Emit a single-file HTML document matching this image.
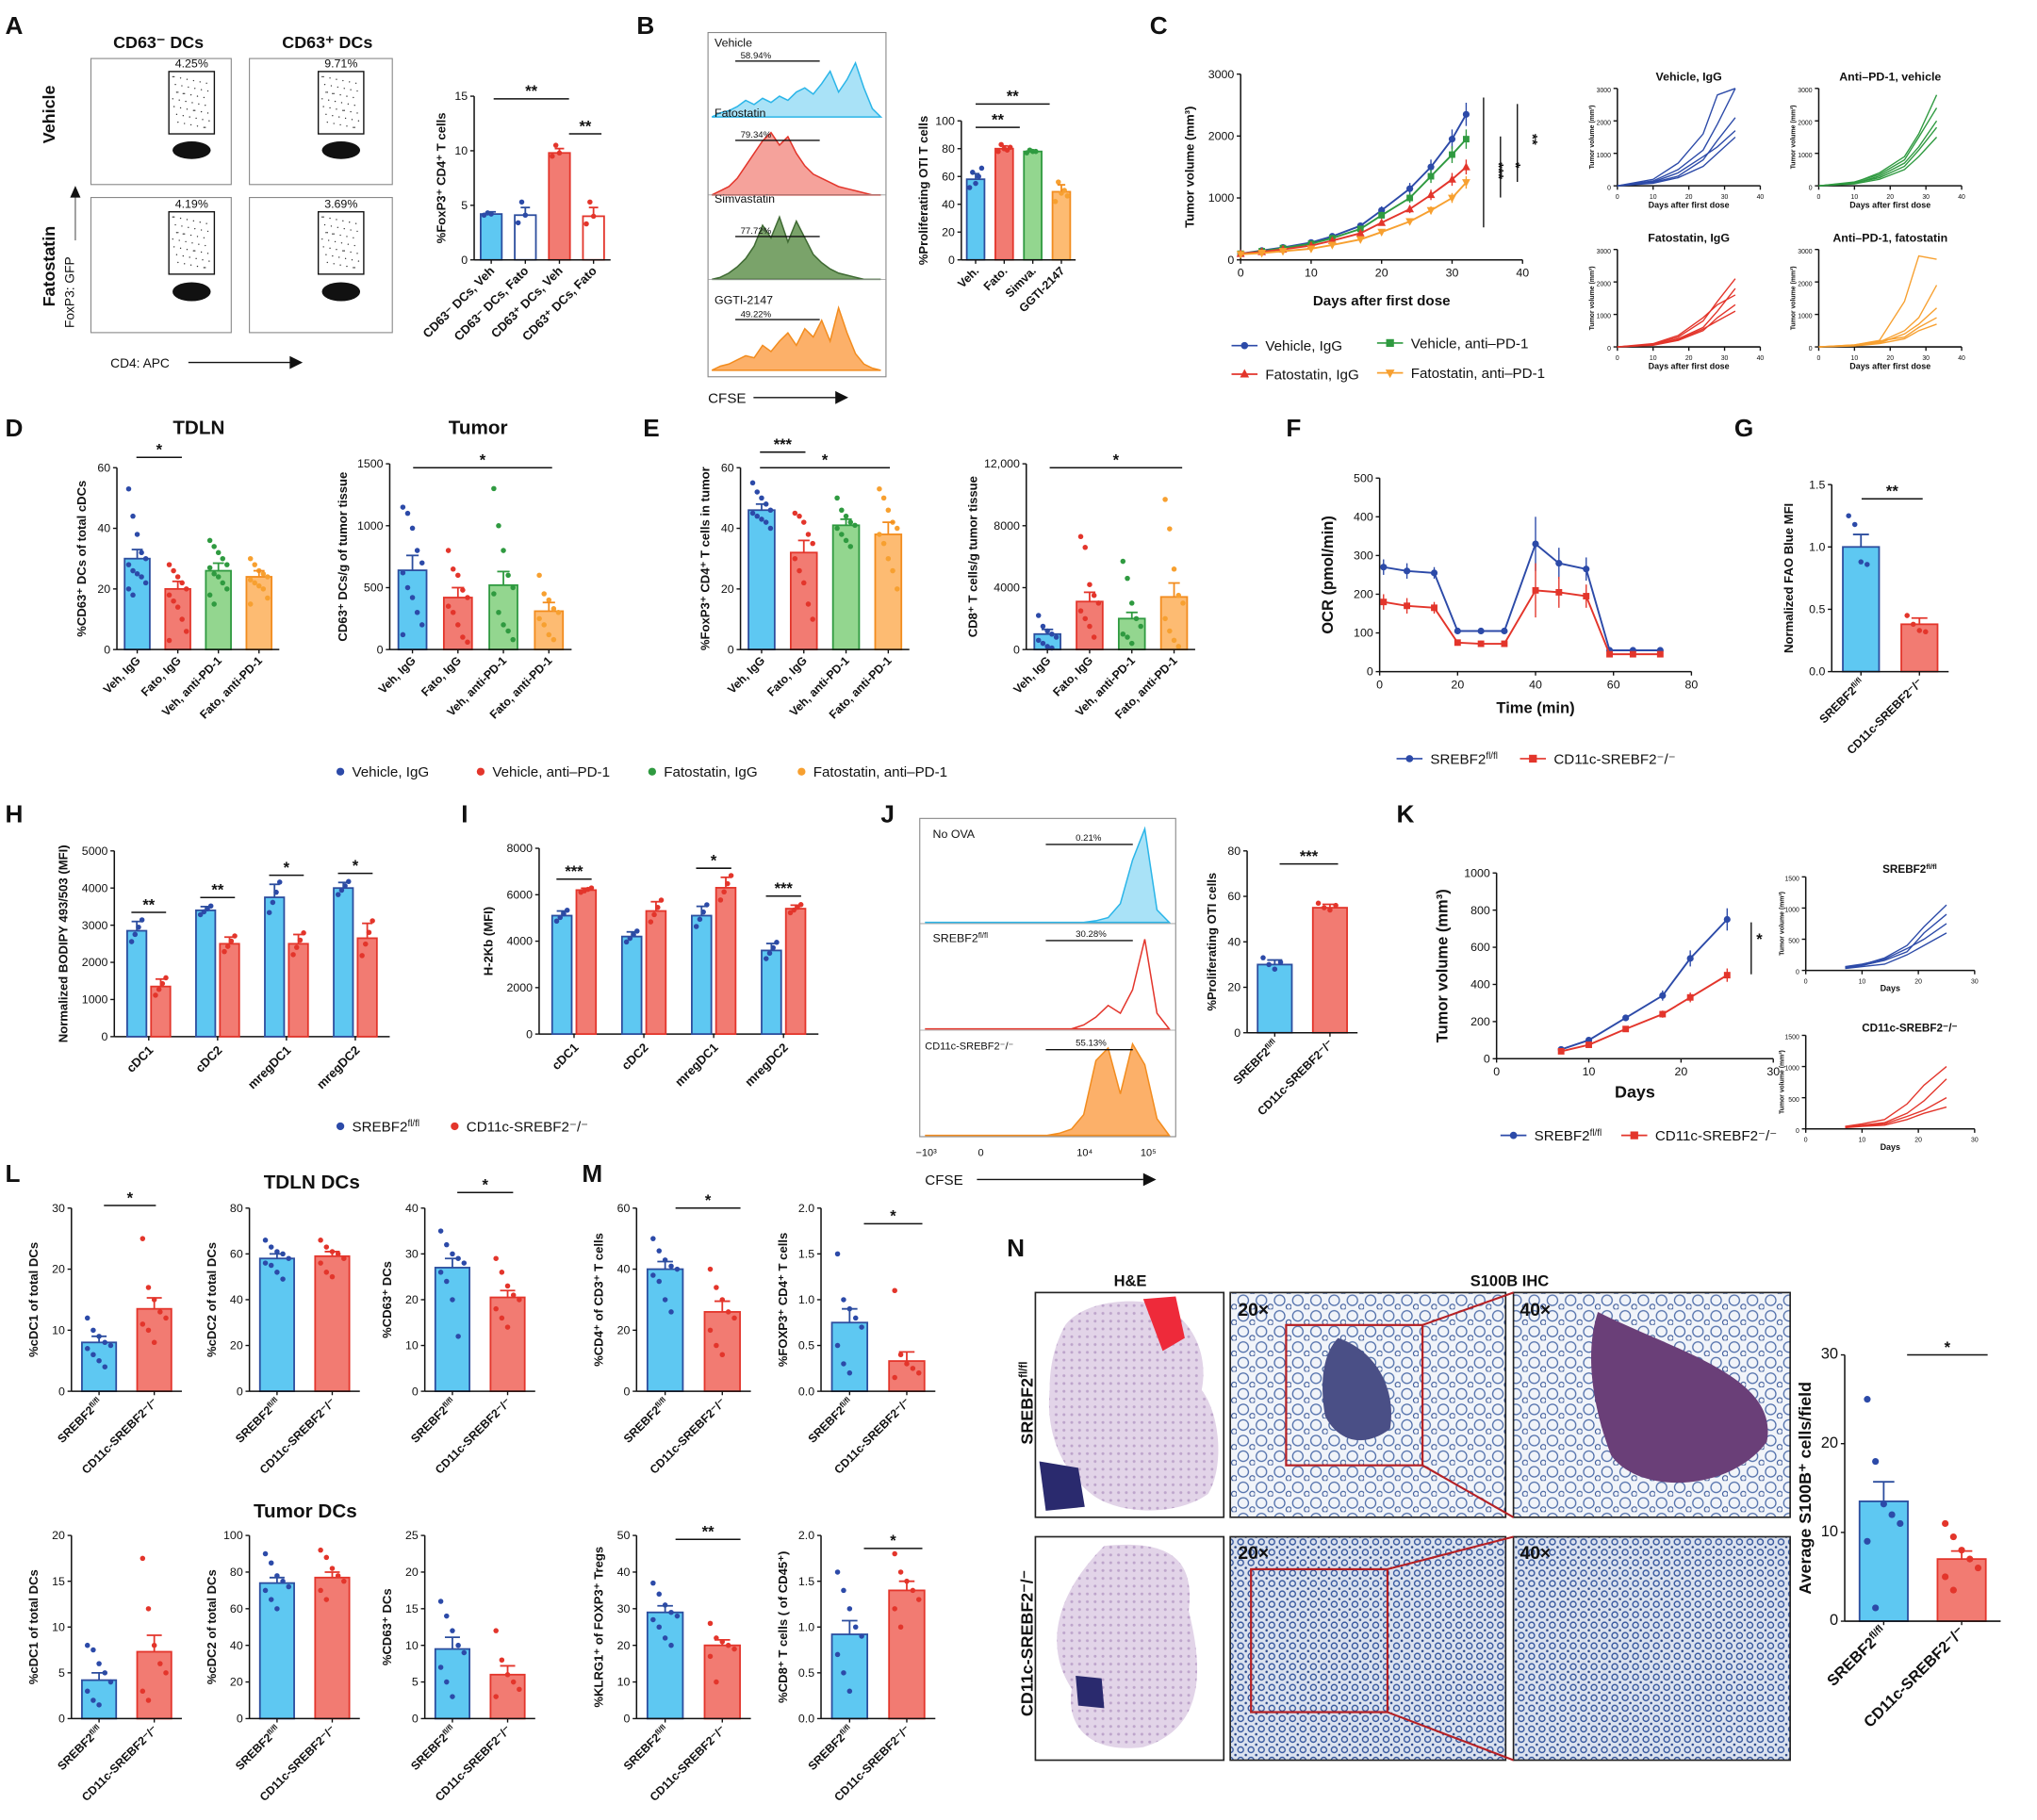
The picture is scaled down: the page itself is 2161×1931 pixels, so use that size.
<!DOCTYPE html>
<html><head><meta charset="utf-8"><style>
html,body{margin:0;padding:0;background:#fff}
svg{display:block;font-family:"Liberation Sans",Arial,sans-serif}
</style></head><body>
<svg id="fig" xmlns="http://www.w3.org/2000/svg" width="2161" height="1931" viewBox="0 0 1568 1401">
<defs>
<pattern id="ihc" width="14" height="12" patternUnits="userSpaceOnUse"><rect width="14" height="12" fill="#f1f4f9"/><circle cx="5" cy="5" r="4" fill="none" stroke="#4c6ba8" stroke-width="0.9"/><circle cx="12" cy="10" r="2" fill="none" stroke="#3a5898" stroke-width="0.8"/></pattern>
<pattern id="ihc2" width="8" height="8" patternUnits="userSpaceOnUse"><rect width="8" height="8" fill="#dbe2ef"/><circle cx="3" cy="3" r="2.2" fill="none" stroke="#34559c" stroke-width="1"/><circle cx="7" cy="7" r="0.9" fill="#27458a"/></pattern>
<pattern id="he" width="6" height="6" patternUnits="userSpaceOnUse"><rect width="6" height="6" fill="#e2d4e8"/><circle cx="3" cy="3" r="1.1" fill="#bda4cb"/></pattern>
</defs>
<g id="root"></g>
</svg>
<script>
// ---------------- data ----------------
const aCats=["CD63⁻ DCs, Veh","CD63⁻ DCs, Fato","CD63⁺ DCs, Veh","CD63⁺ DCs, Fato"];
const aVals=[4.2,4.1,9.8,4.0];
const aErrs=[0.2,0.7,0.4,0.8];
const aDots=[[4.1,4.3,4.2],[3.4,5.3,4.1],[9.5,10.5,9.8],[3.3,5.3,4.0]];
const bCats=["Veh.","Fato.","Simva.","GGTI-2147"];
const bVals=[58,80,78,49];
const bErrs=[4,2,1,5];
const bDots=[[52,63,55,60,66],[78,83,80,79,81],[77,79,78,78],[42,56,48,50,46]];
const dCats=["Veh, IgG","Fato, IgG","Veh, anti-PD-1","Fato, anti-PD-1"];
const d1Vals=[30,20,26,24];const d1Errs=[3,2.5,2.5,2];
const d1Dots=[[53,44,38,32,30,28,26,25,24,22,20,18],[28,26,24,22,20,18,16,14,10,6,3],[36,34,32,30,28,27,25,24,22,20,18,15],[30,28,26,25,24,23,22,21,20,17,15]];
const d2Vals=[640,420,520,310];const d2Errs=[120,80,110,70];
const d2Dots=[[1150,1100,980,800,700,620,500,420,300,200,120],[800,650,600,480,420,350,300,200,100,60],[1300,1000,800,600,500,450,300,200,150,80],[600,450,400,330,300,250,200,120,80]];
const e1Vals=[46,32,41,38];const e1Errs=[2,4,2,4];
const e1Dots=[[55,52,50,48,46,45,44,43,42,40],[45,44,42,38,35,30,26,22,15,10],[50,46,44,42,41,40,38,36,34],[53,50,46,42,40,38,35,30,26,20]];
const e2Vals=[1000,3100,2000,3400];const e2Errs=[300,600,400,900];
const e2Dots=[[2200,1500,1200,1000,800,600,400,200,100],[7300,6600,4200,3500,3000,2500,2000,1500,800],[5700,4600,3000,2000,1500,1000,800,400],[9700,7800,5200,3500,3000,2000,1200,600,200]];
const gCats=["SREBF2fl/fl","CD11c-SREBF2⁻/⁻"];
const gVals=[1.0,0.38];const gErrs=[0.1,0.05];
const gDots=[[1.25,1.18,0.88,0.86],[0.45,0.38,0.33,0.32]];
const hCats=["cDC1","cDC2","mregDC1","mregDC2"];
const hVals1=[2850,3400,3750,4000];const hVals2=[1350,2500,2500,2650];
const hErrs1=[250,100,350,150];const hErrs2=[200,180,250,400];
const iVals1=[5100,4200,5100,3600];const iVals2=[6200,5300,6300,5400];
const iErrs1=[200,200,400,300];const iErrs2=[80,400,450,150];
const jVals=[30,55];const jErrs=[2,1.5];const jDots=[[33,30,28,31],[57,55,54,56]];
const nVals=[13.5,7];const nErrs=[2.2,0.9];
const nDots=[[25,18,13.2,12,11,9,1.5],[11,9.5,8,7,6,5,3.5]];
const lTop=[{v:[8,13.5],e:[1,1.8],max:30,t:[0,10,20,30],y:"%cDC1 of total DCs",d:[[12,10,9,8,7.5,7,6,5,4],[25,17,15,13,12,11,10,8]]},
 {v:[58,59],e:[2,2],max:80,t:[0,20,40,60,80],y:"%cDC2 of total DCs",d:[[66,63,61,60,58,56,55,52,49],[66,63,61,60,58,56,52,50]]},
 {v:[27,20.5],e:[2,1.5],max:40,t:[0,10,20,30,40],y:"%CD63⁺ DCs",d:[[35,32,30,29,28,26,24,20,12],[29,26,23,21,20,18,16,14]]}];
const lBot=[{v:[4.2,7.3],e:[0.8,1.8],max:20,t:[0,5,10,15,20],y:"%cDC1 of total DCs",d:[[8,7.5,6,5,4,3,2,1.5],[17.5,12,8,6,5,3,2]]},
 {v:[74,77],e:[3,3],max:100,t:[0,20,40,60,80,100],y:"%cDC2 of total DCs",d:[[90,85,78,75,72,70,65,60],[92,88,82,78,75,70,65]]},
 {v:[9.5,6],e:[1.6,1.2],max:25,t:[0,5,10,15,20,25],y:"%CD63⁺ DCs",d:[[16,14,12,10,9,7,5,3],[12,8,6,5,4,3]]}];
const mTop=[{v:[40,26],e:[2.5,3.5],max:60,t:[0,20,40,60],y:"%CD4⁺ of CD3⁺ T cells",d:[[50,46,43,41,40,38,36,30,26],[40,34,30,26,24,20,15,12]]},
 {v:[0.75,0.33],e:[0.15,0.1],max:2,t:["0.0","0.5","1.0","1.5","2.0"],y:"%FOXP3⁺ CD4⁺ T cells",d:[[1.5,1.0,0.9,0.8,0.7,0.5,0.3,0.2],[1.1,0.4,0.3,0.25,0.2,0.15]]}];
const mBot=[{v:[29,20],e:[1.8,1.5],max:50,t:[0,10,20,30,40,50],y:"%KLRG1⁺ of FOXP3⁺ Tregs",d:[[37,34,31,29,28,27,25,22,20],[26,22,21,20,19,17,10]]},
 {v:[0.92,1.4],e:[0.15,0.1],max:2,t:["0.0","0.5","1.0","1.5","2.0"],y:"%CD8⁺ T cells ( of CD45⁺)",d:[[1.6,1.4,1.2,1.0,0.9,0.7,0.5,0.3],[1.8,1.6,1.5,1.4,1.3,1.2,1.0]]}];
const cDays=[0,3,6,10,13,17,20,24,27,30,32];
const cVehIgG=[100,150,200,280,380,550,800,1150,1500,1950,2350];
const cVehPD1=[100,140,190,260,350,500,720,1000,1350,1700,1950];
const cFatoIgG=[100,130,170,230,310,430,600,820,1050,1300,1500];
const cFatoPD1=[90,110,140,180,240,330,450,620,800,1000,1250];
const smDays=[0,10,17,24,28,33];
const smVehIgG=[[0,150,500,1100,1900,3000],[0,100,300,800,1400,2100],[0,120,400,900,1200,1700],[0,80,250,600,1000,1500],[0,200,700,1600,2800,3000]];
const smPD1Veh=[[0,100,400,900,1600,2800],[0,80,300,700,1200,2000],[0,120,350,800,1500,2400],[0,60,200,500,900,1500],[0,90,250,600,1100,1800]];
const smFatoIgG=[[0,80,300,800,1400,2100],[0,60,250,600,1100,1800],[0,100,350,900,1300,1600],[0,50,200,500,900,1300],[0,70,220,550,800,1100]];
const smFatoPD1=[[0,60,200,1400,2800,2700],[0,50,150,500,900,1900],[0,40,120,400,700,1200],[0,60,180,300,600,900],[0,30,100,250,500,700]];
const fTime=[1,7,14,20,26,32,40,46,53,59,65,72];
const fCtrl=[270,260,255,105,105,105,330,280,265,55,55,55];
const fKO=[180,170,165,75,72,72,210,205,195,45,45,45];
const fErr=[20,20,15,8,8,8,70,40,30,5,5,5];
const kDays=[7,10,14,18,21,25];
const kCtrl=[50,100,220,340,540,750];
const kKO=[40,75,160,240,330,450];
const kSmDays=[7,10,14,18,21,25];
const kSm1=[[50,90,200,400,700,1050],[40,80,160,300,600,900],[60,100,180,350,500,750],[30,60,100,250,400,600]];
const kSm2=[[40,80,150,400,700,1000],[30,60,100,250,450,800],[30,50,80,200,300,500],[20,40,60,150,250,350]];
const hist1=[0,2,3,5,8,6,9,7,10,8,12,14,11,16,22,12,18,26,14,4,0];
const hist2=[0,2,4,8,14,20,26,30,24,28,20,14,10,8,6,4,3,2,1,0,0];
const hist3=[0,1,3,6,10,16,26,20,30,18,28,20,12,8,5,3,2,1,0,0,0];
const hist4=[0,2,3,5,7,6,12,9,14,18,12,20,16,24,14,30,18,8,3,1,0];
const jHist1=[0,0,0,0,0,0,0,0,0,0,0,0,0,0,1,3,12,40,60,8,0];
const jHist2=[0,0,0,0,0,0,0,0,0,0,0,0,0,2,6,12,8,20,46,8,0];
const jHist3=[0,0,0,0,0,0,0,0,0,0,0,1,3,10,36,42,20,44,34,8,0];

// ---------------- helpers ----------------
const NS="http://www.w3.org/2000/svg";
const root=document.getElementById('root');
function mk(tag,attrs,parent){const e=document.createElementNS(NS,tag);for(const k in attrs)e.setAttribute(k,attrs[k]);(parent||root).appendChild(e);return e;}
function nm(el,n){


return el;}
function txt(x,y,s,o){o=o||{};const fs=o.fs||9;const e=mk('text',{x:x,y:y,'font-size':fs,'font-weight':o.fw||'normal','text-anchor':o.a||'start','fill':o.c||'#111'},o.p);if(o.rot!==undefined)e.setAttribute('transform',`rotate(${o.rot} ${x} ${y})`);
 const parts=String(s).split('fl/fl');
 if(parts.length>1){e.appendChild(document.createTextNode(parts[0]));const t=document.createElementNS(NS,'tspan');t.setAttribute('font-size',fs*0.65);t.setAttribute('dy',-fs*0.35);t.textContent='fl/fl';e.appendChild(t);
  if(parts[1]){const t2=document.createElementNS(NS,'tspan');t2.setAttribute('dy',fs*0.35);t2.textContent=parts[1];e.appendChild(t2);}}
 else e.textContent=s;
 nm(e,o.n||'label');return e;}
function line(x1,y1,x2,y2,c,w,p){return nm(mk('line',{x1,y1,x2,y2,stroke:c||'#111','stroke-width':w||1},p),'line');}
const COL={b:{f:'#5ec8f2',s:'#2c4d9e',d:'#2c4aa8'},r:{f:'#f27b72',s:'#e3352b',d:'#e3352b'},g:{f:'#93d68f',s:'#2f9a40',d:'#2f9a40'},o:{f:'#fdbb72',s:'#f28c1e',d:'#f7a030'}};
function letter(x,y,s){txt(x,y,s,{fs:19,fw:'bold',n:'panel-letter-'+s.toLowerCase()});}
function sig(x1,x2,y,s){if(!s)return;line(x1,y,x2,y,'#111',1.1);txt((x1+x2)/2,y-2,s,{fs:12,fw:'bold',a:'middle',n:'significance'});}
function yAxis(P,sy){line(P.x,P.y,P.x,P.y+P.h,'#111',1.1);P.ticks.forEach(t=>{const v=parseFloat(String(t).replace(',',''));const yy=sy(v);line(P.x-3,yy,P.x,yy);txt(P.x-5,yy+3,String(t),{fs:P.tfs||9,a:'end',n:'y-tick-label'});});
 if(P.ylab)txt(P.x-(P.yoff||28),P.y+P.h/2,P.ylab,{fs:P.yfs||9.5,fw:'bold',a:'middle',rot:-90,n:'y-axis-title'});}
function barChart(P){
 const g=nm(mk('g',{}),P.name||'bar-chart');
 const sy=v=>P.y+P.h-v/P.max*P.h;
 yAxis(P,sy);line(P.x,P.y+P.h,P.x+P.w,P.y+P.h,'#111',1.1);
 const n=P.vals.length,slot=P.w/n,bw=slot*(P.bwf||0.62);
 P.vals.forEach((v,i)=>{const cx=P.x+slot*(i+0.5);const c=COL[P.cols[i]];const open=P.open&&P.open[i];
  const r=mk('rect',{x:cx-bw/2,y:sy(v),width:bw,height:P.y+P.h-sy(v),fill:open?'#fff':c.f,stroke:c.s,'stroke-width':1.3},g);
  
  
  line(cx,P.y+P.h,cx,P.y+P.h+3,'#111',1,g);
  if(P.dots){P.dots[i].forEach((d,j)=>{const dx=((j%5)-2)*bw*0.17;const c2=mk('circle',{cx:cx+dx,cy:sy(d),r:P.dr||2,fill:c.d},g);
   
   });}
  const e=P.errs[i];line(cx,sy(v),cx,sy(v+e),c.s,1.3,g);line(cx-bw*0.22,sy(v+e),cx+bw*0.22,sy(v+e),c.s,1.3,g);
  if(P.cats){txt(cx+3,P.y+P.h+9,P.cats[i],{fs:P.cfs||9,fw:'bold',a:'end',rot:-45,n:'category-label'});}
 });
 return sy;}
function grouped(P){
 const sy=v=>P.y+P.h-v/P.max*P.h;yAxis(P,sy);line(P.x,P.y+P.h,P.x+P.w,P.y+P.h,'#111',1.1);
 const n=P.cats.length,slot=P.w/n,bw=slot*0.28;
 P.cats.forEach((cat,i)=>{const gx=P.x+slot*(i+0.5);
  [[P.v1,P.e1,'b',-1],[P.v2,P.e2,'r',1]].forEach(([vs,es,ck,sgn])=>{const c=COL[ck];const cx=gx+sgn*bw*0.62;const v=vs[i];
   const r=mk('rect',{x:cx-bw/2,y:sy(v),width:bw,height:P.y+P.h-sy(v),fill:c.f,stroke:c.s,'stroke-width':1.3});
   
   
   [-0.9,-0.3,0.3,0.9].forEach((k,j)=>{const d=v+es[i]*k*1.3;const cc=mk('circle',{cx:cx+(j-1.5)*bw*0.18,cy:sy(d),r:2,fill:c.d});
    
    });
   line(cx,sy(v),cx,sy(v+es[i]),c.s,1.3);line(cx-4,sy(v+es[i]),cx+4,sy(v+es[i]),c.s,1.3);});
  line(gx,P.y+P.h,gx,P.y+P.h+3);
  txt(gx+4,P.y+P.h+11,cat,{fs:9.5,fw:'bold',a:'end',rot:-45,n:'category-label'});
  sig(gx-bw*0.9,gx+bw*0.9,sy(Math.max(P.v1[i]+P.e1[i],P.v2[i]+P.e2[i]))-7,P.sigs[i]);
 });}
function lineChart(P){
 const sx=v=>P.x+(v-P.xmin)/(P.xmax-P.xmin)*P.w, sy=v=>P.y+P.h-v/P.max*P.h;
 yAxis(P,sy);line(P.x,P.y+P.h,P.x+P.w,P.y+P.h,'#111',1.1);
 P.xticks.forEach(t=>{line(sx(t),P.y+P.h,sx(t),P.y+P.h+3);txt(sx(t),P.y+P.h+(P.tfs?P.tfs+5:13),String(t),{fs:P.tfs||9,a:'middle',n:'x-tick-label'});});
 if(P.xlab)txt(P.x+P.w/2,P.y+P.h+(P.xoff||32),P.xlab,{fs:P.xfs||11,fw:'bold',a:'middle',n:'x-axis-title'});
 P.series.forEach(s=>{const pts=s.vals.map((v,i)=>sx(P.xs[i])+','+sy(v)).join(' ');
  const pl=mk('polyline',{points:pts,fill:'none',stroke:s.c,'stroke-width':P.lw||1.4});
  
  
  if(s.marker){s.vals.forEach((v,i)=>{const e=s.errs?s.errs[i]:v*0.08;line(sx(P.xs[i]),sy(v-e),sx(P.xs[i]),sy(v+e),s.c,1);
   const X=sx(P.xs[i]),Y=sy(v);
   const m=s.marker==='c'?mk('circle',{cx:X,cy:Y,r:2.6,fill:s.c}):s.marker==='s'?mk('rect',{x:X-2.5,y:Y-2.5,width:5,height:5,fill:s.c}):mk('polygon',{points:s.marker==='t'?`${X},${Y-3.5} ${X-3.2},${Y+2.5} ${X+3.2},${Y+2.5}`:`${X},${Y+3.5} ${X-3.2},${Y-2.5} ${X+3.2},${Y-2.5}`,fill:s.c});
   
   });}
 });}
function legendItem(x,y,c,marker,label){line(x,y,x+20,y,c,1.2);
 const m=marker==='c'?mk('circle',{cx:x+10,cy:y,r:2.8,fill:c}):marker==='s'?mk('rect',{x:x+7,y:y-3,width:6,height:6,fill:c}):mk('polygon',{points:marker==='t'?`${x+10},${y-4} ${x+6.5},${y+2.5} ${x+13.5},${y+2.5}`:`${x+10},${y+4} ${x+6.5},${y-2.5} ${x+13.5},${y-2.5}`,fill:c});
 
 
 txt(x+26,y+4,label,{fs:11,n:'legend-entry'});}
function dotLegend(x,y,c,label){const m=mk('circle',{cx:x,cy:y,r:3,fill:c});
 
 
 txt(x+9,y+4,label,{fs:11,n:'legend-entry'});}
function flowBox(x,y,w,h,pct,gx,gy,gw,gh){nm(mk('rect',{x,y,width:w,height:h,fill:'#fff',stroke:'#888','stroke-width':0.8}),'flow-plot');
 nm(mk('ellipse',{cx:gx+gw/2,cy:gy+gh+h*0.13,rx:gw*0.42,ry:h*0.07,fill:'#111'}),'cell-cluster');
 for(let i=0;i<45;i++){nm(mk('circle',{cx:gx+3+((i*37)%(gw-6)),cy:gy+4+((i*53)%(gh-8)),r:0.5,fill:'#333'}),'event');}
 nm(mk('rect',{x:gx,y:gy,width:gw,height:gh,fill:'none',stroke:'#111','stroke-width':1}),'gate');
 txt(gx+gw/2,gy-3,pct,{fs:9,a:'middle',n:'gate-percent'});}
function histo(x,y,w,h,vals,fill,stroke,scale){const step=w/(vals.length-1);
 const pts=vals.map((v,i)=>`${x+i*step},${y+h-v*scale}`).join(' ');
 nm(mk('polygon',{points:`${x},${y+h} ${pts} ${x+w},${y+h}`,fill:fill,stroke:stroke,'stroke-width':1.1}),'histogram');}
function rbar(x,y,w,h,name,cats){
 return (o)=>barChart(Object.assign({x,y,w,h,cols:['b','r'],cats:cats,yoff:26,name:name,cfs:9},o));}
const twoCats=["SREBF2fl/fl","CD11c-SREBF2⁻/⁻"];

// ---------------- Panel A ----------------
letter(4,26,'A');
txt(122,37,'CD63⁻ DCs',{fs:13,fw:'bold',a:'middle'});txt(252,37,'CD63⁺ DCs',{fs:13,fw:'bold',a:'middle'});
txt(42,88,'Vehicle',{fs:13,fw:'bold',a:'middle',rot:-90});txt(42,205,'Fatostatin',{fs:13,fw:'bold',a:'middle',rot:-90});
txt(57,225,'FoxP3: GFP',{fs:10,a:'middle',rot:-90});line(58,185,58,150,'#555',0.8);
nm(mk('polygon',{points:'58,143 54,152 62,152',fill:'#111'}),'arrow-head');
flowBox(70,45,108,97,'4.25%',130,55,35,48);
flowBox(192,45,110,97,'9.71%',245,55,35,48);
flowBox(70,152,108,104,'4.19%',130,163,35,48);
flowBox(192,152,110,104,'3.69%',245,163,35,48);
barChart({name:'panel-a-bars',x:365,y:74,w:105,h:126,max:15,ticks:[0,5,10,15],cats:aCats,vals:aVals,errs:aErrs,dots:aDots,cols:['b','b','r','r'],open:[0,1,0,1],ylab:'%FoxP3⁺ CD4⁺ T cells',yoff:22,cfs:9.5});
sig(380,438,76,'**');sig(438,463,103,'**');
txt(85,283,'CD4: APC',{fs:10,n:'x-axis-title'});line(145,279,225,279,'#111',1);nm(mk('polygon',{points:'233,279 223,274 223,284',fill:'#111'}),'arrow-head');

// ---------------- Panel B ----------------
letter(490,26,'B');
nm(mk('rect',{x:545,y:25,width:137,height:265,fill:'#fff',stroke:'#888','stroke-width':0.8}),'histogram-frame');
histo(548,35,130,55,hist1,'#a9e2f7','#2bb5e8',1.6);txt(550,36,'Vehicle',{fs:9});line(566,47,631,47);txt(570,45,'58.94%',{fs:7});
histo(548,95,130,55,hist2,'#f5a29b','#e3352b',1.6);txt(550,90,'Fatostatin',{fs:9});line(566,108,631,108);txt(570,106,'79.34%',{fs:7});
histo(548,160,130,55,hist3,'#7aa36a','#3f6a33',1.6);txt(550,156,'Simvastatin',{fs:9});line(566,182,631,182);txt(570,180,'77.72%',{fs:7});
histo(548,225,130,60,hist4,'#fcb069','#f28c1e',1.6);txt(550,234,'GGTI-2147',{fs:9});line(566,246,631,246);txt(570,244,'49.22%',{fs:7});
line(545,150,682,150,'#999',0.6);line(545,215,682,215,'#999',0.6);
txt(545,310,'CFSE',{fs:11,n:'x-axis-title'});line(580,306,645,306,'#111',1);nm(mk('polygon',{points:'653,306 643,301 643,311',fill:'#111'}),'arrow-head');
barChart({name:'panel-b-bars',x:740,y:93,w:88,h:107,max:100,ticks:[0,20,40,60,80,100],cats:bCats,vals:bVals,errs:bErrs,dots:bDots,cols:['b','r','g','o'],ylab:'%Proliferating OTI T cells',yoff:26});
sig(751,808,80,'**');sig(751,785,98,'**');

// ---------------- Panel C ----------------
letter(885,26,'C');
lineChart({x:955,y:57,w:217,h:143,xmin:0,xmax:40,max:3000,ticks:[0,1000,2000,3000],xticks:[0,10,20,30,40],xs:cDays,ylab:'Tumor volume (mm³)',yoff:36,xlab:'Days after first dose',xoff:35,
 series:[{vals:cVehIgG,c:'#2c4aa8',marker:'c'},{vals:cVehPD1,c:'#2f9a40',marker:'s'},{vals:cFatoIgG,c:'#e3352b',marker:'t'},{vals:cFatoPD1,c:'#f7a030',marker:'v'}]});
line(1142,75,1142,175);txt(1150,125,'***',{fs:11,fw:'bold',rot:90});line(1155,105,1155,152);txt(1163,125,'*',{fs:11,fw:'bold',rot:90});line(1168,80,1168,140);txt(1176,103,'**',{fs:11,fw:'bold',rot:90});
legendItem(948,266,'#2c4aa8','c','Vehicle, IgG');legendItem(1060,264,'#2f9a40','s','Vehicle, anti–PD-1');
legendItem(948,288,'#e3352b','t','Fatostatin, IgG');legendItem(1060,287,'#f7a030','v','Fatostatin, anti–PD-1');
[[1245,68,'Vehicle, IgG',smVehIgG,'#2c4aa8'],[1400,68,'Anti–PD-1, vehicle',smPD1Veh,'#2f9a40'],[1245,192,'Fatostatin, IgG',smFatoIgG,'#e3352b'],[1400,192,'Anti–PD-1, fatostatin',smFatoPD1,'#f7a030']].forEach(([x,y,t,arr,c])=>{
 txt(x+55,y-6,t,{fs:9,fw:'bold',a:'middle',n:'small-multiple-title'});
 lineChart({x:x,y:y,w:110,h:75,xmin:0,xmax:40,max:3000,ticks:[0,1000,2000,3000],tfs:5,xticks:[0,10,20,30,40],xs:smDays,ylab:'Tumor volume (mm³)',yfs:5,yoff:18,xlab:'Days after first dose',xfs:6.5,xoff:17,lw:1,
  series:arr.map(a=>({vals:a,c:c}))});});

// ---------------- Panel D ----------------
letter(4,336,'D');
txt(153,334,'TDLN',{fs:15,fw:'bold',a:'middle'});txt(368,334,'Tumor',{fs:15,fw:'bold',a:'middle'});
barChart({name:'panel-d-tdln',x:90,y:360,w:125,h:140,max:60,ticks:[0,20,40,60],cats:dCats,vals:d1Vals,errs:d1Errs,dots:d1Dots,cols:['b','r','g','o'],ylab:'%CD63⁺ DCs of total cDCs',yoff:24});
sig(105,140,352,'*');
barChart({name:'panel-d-tumor',x:300,y:357,w:140,h:143,max:1500,ticks:[0,500,1000,1500],cats:dCats,vals:d2Vals,errs:d2Errs,dots:d2Dots,cols:['b','r','g','o'],ylab:'CD63⁺ DCs/g of tumor tissue',yoff:33});
sig(318,425,360,'*');

// ---------------- Panel E ----------------
letter(495,336,'E');
barChart({name:'panel-e-foxp3',x:570,y:360,w:130,h:140,max:60,ticks:[0,20,40,60],cats:dCats,vals:e1Vals,errs:e1Errs,dots:e1Dots,cols:['b','r','g','o'],ylab:'%FoxP3⁺ CD4⁺ T cells in tumor',yoff:24});
sig(585,620,348,'***');sig(585,685,360,'*');
barChart({name:'panel-e-cd8',x:790,y:357,w:130,h:143,max:12000,ticks:[0,4000,8000,'12,000'],cats:dCats,vals:e2Vals,errs:e2Errs,dots:e2Dots,cols:['b','r','g','o'],ylab:'CD8⁺ T cells/g tumor tissue',yoff:38});
sig(808,910,360,'*');
dotLegend(262,594,'#2c4aa8','Vehicle, IgG');dotLegend(370,594,'#e3352b','Vehicle, anti–PD-1');dotLegend(502,594,'#2f9a40','Fatostatin, IgG');dotLegend(617,594,'#f7a030','Fatostatin, anti–PD-1');

// ---------------- Panel F ----------------
letter(990,336,'F');
lineChart({x:1062,y:368,w:240,h:149,xmin:0,xmax:80,max:500,ticks:[0,100,200,300,400,500],xticks:[0,20,40,60,80],xs:fTime,ylab:'OCR (pmol/min)',yoff:36,yfs:12,xlab:'Time (min)',xoff:32,xfs:12,
 series:[{vals:fCtrl,c:'#2c4aa8',marker:'c',errs:fErr},{vals:fKO,c:'#e3352b',marker:'s',errs:fErr}]});
legendItem(1075,584,'#2c4aa8','c','SREBF2fl/fl');legendItem(1170,584,'#e3352b','s','CD11c-SREBF2⁻/⁻');

// ---------------- Panel G ----------------
letter(1335,336,'G');
barChart({name:'panel-g-bars',x:1410,y:373,w:90,h:144,max:1.5,ticks:['0.0','0.5','1.0','1.5'],cats:gCats,vals:gVals,errs:gErrs,dots:gDots,cols:['b','r'],ylab:'Normalized FAO Blue MFI',yoff:30});
sig(1433,1480,384,'**');

// ---------------- Panel H ----------------
letter(4,633,'H');
grouped({x:88,y:655,w:212,h:143,max:5000,ticks:[0,1000,2000,3000,4000,5000],cats:hCats,v1:hVals1,v2:hVals2,e1:hErrs1,e2:hErrs2,sigs:['**','**','*','*'],ylab:'Normalized BODIPY 493/503 (MFI)',yoff:36});
// ---------------- Panel I ----------------
letter(355,633,'I');
grouped({x:415,y:653,w:215,h:143,max:8000,ticks:[0,2000,4000,6000,8000],cats:hCats,v1:iVals1,v2:iVals2,e1:iErrs1,e2:iErrs2,sigs:['***','','*','***'],ylab:'H-2Kb (MFI)',yoff:36});
dotLegend(262,867,'#2c4aa8','SREBF2fl/fl');dotLegend(350,867,'#e3352b','CD11c-SREBF2⁻/⁻');

// ---------------- Panel J ----------------
letter(678,633,'J');
nm(mk('rect',{x:708,y:630,width:197,height:245,fill:'#fff',stroke:'#888','stroke-width':0.8}),'histogram-frame');
histo(712,632,188,78,jHist1,'#a9e2f7','#2bb5e8',1.2);txt(718,645,'No OVA',{fs:9});line(805,650,872,650);txt(828,647,'0.21%',{fs:7});
line(708,711,905,711,'#999',0.6);line(708,793,905,793,'#999',0.6);
histo(712,712,188,80,jHist2,'#fff','#e3352b',1.5);txt(718,725,'SREBF2fl/fl',{fs:9});line(805,724,872,724);txt(828,721,'30.28%',{fs:7});
histo(712,794,188,80,jHist3,'#fcb069','#f28c1e',1.6);txt(712,808,'CD11c-SREBF2⁻/⁻',{fs:8});line(805,808,872,808);txt(828,805,'55.13%',{fs:7});
[['−10³',713],['0',755],['10⁴',835],['10⁵',884]].forEach(([t,x])=>txt(x,890,t,{fs:8,a:'middle',n:'x-tick-label'}));
txt(712,912,'CFSE',{fs:11,n:'x-axis-title'});line(752,908,880,908,'#111',1);nm(mk('polygon',{points:'890,908 880,903 880,913',fill:'#111'}),'arrow-head');
barChart({name:'panel-j-bars',x:960,y:655,w:85,h:140,max:80,ticks:[0,20,40,60,80],cats:twoCats,vals:jVals,errs:jErrs,dots:jDots,cols:['b','r'],ylab:'%Proliferating OTI cells',yoff:24});
sig(985,1030,665,'***');

// ---------------- Panel K ----------------
letter(1075,633,'K');
lineChart({x:1152,y:672,w:213,h:143,xmin:0,xmax:30,max:1000,ticks:[0,200,400,600,800,1000],xticks:[0,10,20,30],xs:kDays,ylab:'Tumor volume (mm³)',yoff:38,yfs:12,xlab:'Days',xoff:30,xfs:13,
 series:[{vals:kCtrl,c:'#2c4aa8',marker:'c'},{vals:kKO,c:'#e3352b',marker:'s'}]});
line(1348,710,1348,750);txt(1352,727,'*',{fs:12,fw:'bold'});
legendItem(1155,874,'#2c4aa8','c','SREBF2fl/fl');legendItem(1248,874,'#e3352b','s','CD11c-SREBF2⁻/⁻');
[[1390,675,'SREBF2fl/fl',kSm1,'#2c4aa8'],[1390,797,'CD11c-SREBF2⁻/⁻',kSm2,'#e3352b']].forEach(([x,y,t,arr,c])=>{
 txt(x+80,y-3,t,{fs:8.5,fw:'bold',a:'middle',n:'small-multiple-title'});
 lineChart({x:x,y:y,w:130,h:72,xmin:0,xmax:30,max:1500,ticks:[0,500,1000,1500],tfs:5,xticks:[0,10,20,30],xs:kSmDays,ylab:'Tumor volume (mm³)',yfs:5,yoff:17,xlab:'Days',xfs:6.5,xoff:16,lw:1,
  series:arr.map(a=>({vals:a,c:c}))});});

// ---------------- Panel L ----------------
letter(4,910,'L');
txt(240,915,'TDLN DCs',{fs:15,fw:'bold',a:'middle'});txt(235,1168,'Tumor DCs',{fs:15,fw:'bold',a:'middle'});
const lX=[55,192,327];
lTop.forEach((p,i)=>{rbar(lX[i],930,85,141,'panel-l-tdln-'+i,twoCats)({max:p.max,ticks:p.t,vals:p.v,errs:p.e,dots:p.d,ylab:p.y});});
sig(80,120,928,'*');sig(352,395,918,'*');
lBot.forEach((p,i)=>{rbar(lX[i],1182,85,141,'panel-l-tumor-'+i,twoCats)({max:p.max,ticks:p.t,vals:p.v,errs:p.e,dots:p.d,ylab:p.y});});

// ---------------- Panel M ----------------
letter(448,910,'M');
const mX=[490,632];
mTop.forEach((p,i)=>{rbar(mX[i],930,88,141,'panel-m-top-'+i,twoCats)({max:p.max,ticks:p.t,vals:p.v,errs:p.e,dots:p.d,ylab:p.y});});
sig(520,570,930,'*');sig(665,710,942,'*');
mBot.forEach((p,i)=>{rbar(mX[i],1182,88,141,'panel-m-bottom-'+i,twoCats)({max:p.max,ticks:p.t,vals:p.v,errs:p.e,dots:p.d,ylab:p.y});});
sig(520,570,1185,'**');sig(665,710,1192,'*');

// ---------------- Panel N ----------------
letter(775,967,'N');
txt(870,990,'H&E',{fs:12,fw:'bold',a:'middle'});txt(1162,990,'S100B IHC',{fs:12,fw:'bold',a:'middle'});
txt(795,1080,'SREBF2fl/fl',{fs:13,fw:'bold',a:'middle',rot:-90});txt(795,1265,'CD11c-SREBF2⁻/⁻',{fs:13,fw:'bold',a:'middle',rot:-90});
nm(mk('rect',{x:797,y:995,width:145,height:173,fill:'#fff',stroke:'#222','stroke-width':1.2}),'he-image-top');
nm(mk('path',{d:'M820,1020 C835,1000 880,997 900,1008 C920,1020 930,1045 925,1070 C940,1090 942,1130 930,1150 C905,1168 860,1166 840,1150 C815,1130 805,1100 808,1070 C808,1050 812,1035 820,1020 Z',fill:'url(#he)'}),'lung-section');
nm(mk('path',{d:'M880,1000 L905,998 L912,1030 L895,1040 Z',fill:'#ee2a3a'}),'he-red');
nm(mk('path',{d:'M800,1125 L830,1130 L835,1160 L805,1163 Z',fill:'#2a2a6e'}),'he-dark');
nm(mk('rect',{x:797,y:1183,width:145,height:172,fill:'#fff',stroke:'#222','stroke-width':1.2}),'he-image-bottom');
nm(mk('path',{d:'M850,1190 C900,1185 920,1200 915,1240 C925,1280 930,1330 880,1345 C840,1350 820,1330 825,1300 C805,1270 810,1230 850,1190 Z',fill:'url(#he)'}),'lung-section');
nm(mk('path',{d:'M828,1290 L848,1292 L850,1315 L830,1313 Z',fill:'#2a2a6e'}),'he-dark');
[[947,995,212,173,'ihc'],[1165,995,213,173,'ihc'],[947,1183,212,172,'ihc2'],[1165,1183,213,172,'ihc2']].forEach(([x,y,w,h,p])=>{
 nm(mk('rect',{x,y,width:w,height:h,fill:`url(#${p})`,stroke:'#222','stroke-width':1.2}),'ihc-image');});
nm(mk('path',{d:'M1030,1030 C1060,1040 1075,1070 1070,1100 C1050,1115 1030,1110 1020,1090 C1015,1060 1020,1040 1030,1030 Z',fill:'#4a4f86'}),'ihc-cluster');
nm(mk('path',{d:'M1230,1010 C1290,1040 1370,1060 1360,1110 C1330,1150 1260,1150 1240,1120 C1225,1080 1220,1040 1230,1010 Z',fill:'#6a3f78'}),'ihc-cluster');
nm(mk('rect',{x:990,y:1020,width:105,height:108,fill:'none',stroke:'#b52024','stroke-width':1.6}),'zoom-box');
line(1095,1020,1165,995,'#b52024',1.5);line(1095,1128,1165,1168,'#b52024',1.5);
nm(mk('rect',{x:963,y:1208,width:105,height:110,fill:'none',stroke:'#b52024','stroke-width':1.6}),'zoom-box');
line(1068,1208,1165,1183,'#b52024',1.5);line(1068,1318,1165,1355,'#b52024',1.5);
txt(953,1013,'20×',{fs:14,fw:'bold'});txt(1170,1013,'40×',{fs:14,fw:'bold'});txt(953,1200,'20×',{fs:14,fw:'bold'});txt(1170,1200,'40×',{fs:14,fw:'bold'});
barChart({name:'panel-n-bars',x:1420,y:1043,w:120,h:205,max:30,ticks:[0,10,20,30],cats:twoCats,vals:nVals,errs:nErrs,dots:nDots,cols:['b','r'],ylab:'Average S100B⁺ cells/field',yoff:26,yfs:13,tfs:12,cfs:12,dr:2.6});
sig(1468,1530,1043,'*');
</script>
</body></html>
